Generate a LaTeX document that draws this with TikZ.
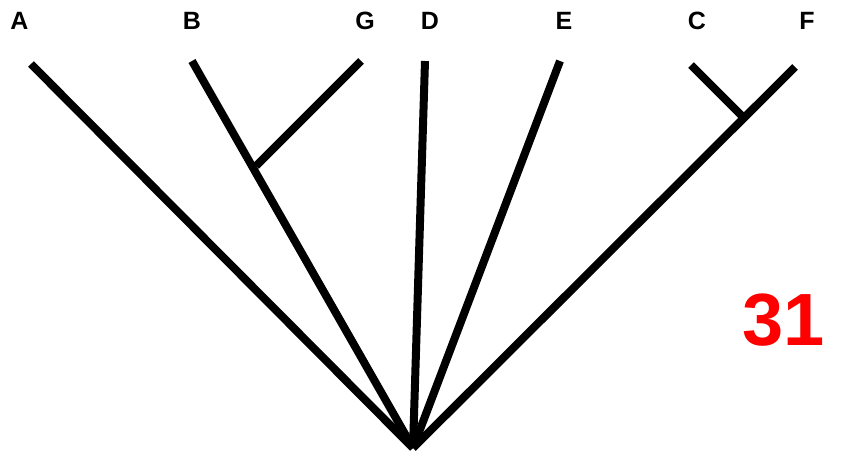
\documentclass[tikz,border=0pt]{standalone}
\usepackage{fontspec}
\setmainfont{Liberation Sans}
\begin{document}
\begin{tikzpicture}[x=1pt,y=-1pt,
  branch/.style={line width=8pt,line cap=butt,black},
  taxon/.style={font=\bfseries\fontsize{25}{25}\selectfont,inner sep=0pt,anchor=center},
  score/.style={font=\bfseries\fontsize{74}{74}\selectfont,text=red,inner sep=0pt,anchor=center}]
\useasboundingbox (0,0) rectangle (843,454);
% labels
\node[taxon] (lA) at (19.5,21) {A};
\node[taxon] (lB) at (192,21) {B};
\node[taxon] (lG) at (365,21) {G};
\node[taxon] (lD) at (430,21) {D};
\node[taxon] (lE) at (564,21) {E};
\node[taxon] (lC) at (697,21) {C};
\node[taxon] (lF) at (807,21) {F};
\node[score] (s) at (784,320) {31};
% tree coordinates
\coordinate (root) at (413,448);
\coordinate (tA) at (31,64);
\coordinate (tB) at (192,61);
\coordinate (tG) at (361,61);
\coordinate (jBG) at (256,166);
\coordinate (tD) at (425,61);
\coordinate (tE) at (560,61);
\coordinate (tC) at (691,65);
\coordinate (jCF) at (742,116);
\coordinate (tF) at (795,67);
% branches
\draw[branch] (tA) -- (root);
\draw[branch] (tB) -- (root);
\draw[branch] (tG) -- (jBG);
\draw[branch] (tD) -- (root);
\draw[branch] (tE) -- (root);
\draw[branch] (tF) -- (root);
\draw[branch] (tC) -- (jCF);
\end{tikzpicture}
\end{document}
